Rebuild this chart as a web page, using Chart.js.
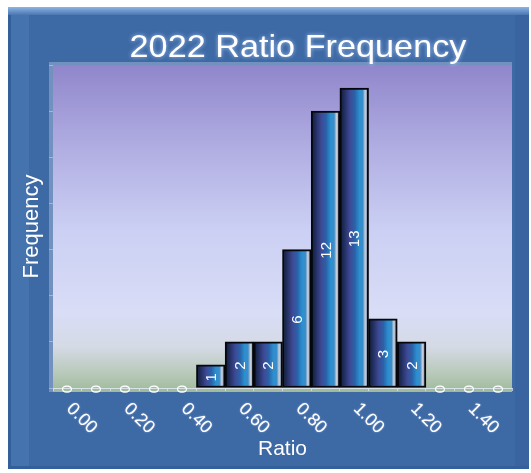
<!DOCTYPE html>
<html>
<head>
<meta charset="utf-8">
<script src="https://cdn.jsdelivr.net/npm/chart.js@4.4.1/dist/chart.umd.min.js"></script>
<style>
  html, body { margin: 0; padding: 0; background: #ffffff; }
  #wrap { width: 531px; height: 473px; }
</style>
</head>
<body>
<div id="wrap"><canvas id="chart" width="531" height="473"></canvas></div>
<script>
// Histogram bins (ratio) and counts per bin
const categories = ['0.00', '0.10', '0.20', '0.30', '0.40', '0.50', '0.60', '0.70',
                    '0.80', '0.90', '1.00', '1.10', '1.20', '1.30', '1.40', '1.50'];
const frequency = [0, 0, 0, 0, 0, 1, 2, 2, 6, 12, 13, 3, 2, 0, 0, 0];
const yMin = 0;
const yMax = 14;
const yStep = 2;
const tickEvery = 2;   // only every other bin carries a label
const chartTitle = '2022 Ratio Frequency';
const xTitle = 'Ratio';
const yTitle = 'Frequency';

const FONT = "'Liberation Sans', Arial, sans-serif";

// Panel, plot backdrop and title
const backdrop = {
  id: 'backdrop',
  beforeDraw(chart) {
    const { ctx, chartArea: a } = chart;
    ctx.save();
    ctx.fillStyle = '#ffffff';
    ctx.fillRect(0, 0, chart.width, chart.height);
    // blue panel
    ctx.fillStyle = '#3d69a5';
    ctx.fillRect(8, 7, 521, 462);
    // bevel strips
    ctx.fillStyle = '#4473ae';
    ctx.fillRect(11, 14, 18, 452);
    ctx.fillStyle = '#33609a';
    ctx.fillRect(8, 7, 3, 462);
    ctx.fillRect(8, 466, 521, 3);
    ctx.fillStyle = '#3a649f';
    ctx.fillRect(515, 14, 14, 452);
    const top = ctx.createLinearGradient(0, 7, 0, 15);
    top.addColorStop(0, '#8db4e4');
    top.addColorStop(1, '#4a76b0');
    ctx.fillStyle = top;
    ctx.fillRect(8, 7, 521, 8);

    // plot area shadow and gradient
    ctx.fillStyle = 'rgba(170,185,215,0.5)';
    ctx.fillRect(a.left - 4, a.top - 3, a.right - a.left + 4, a.bottom - a.top + 7);
    const g = ctx.createLinearGradient(0, a.top, 0, a.bottom + 4);
    g.addColorStop(0.00, '#9086cb');
    g.addColorStop(0.25, '#b0ade2');
    g.addColorStop(0.50, '#cbcff3');
    g.addColorStop(0.76, '#d9ddf6');
    g.addColorStop(0.86, '#d5dae6');
    g.addColorStop(0.94, '#b9cabb');
    g.addColorStop(1.00, '#9fba9a');
    ctx.fillStyle = g;
    ctx.fillRect(a.left, a.top, a.right - a.left, a.bottom - a.top + 4);
    ctx.restore();
  },
  afterDraw(chart) {
    const { ctx } = chart;
    ctx.save();
    ctx.font = `32px ${FONT}`;
    ctx.textAlign = 'center';
    ctx.textBaseline = 'alphabetic';
    ctx.fillStyle = '#ffffff';
    ctx.shadowColor = 'rgba(190,215,255,0.8)';
    ctx.shadowBlur = 4;
    ctx.translate(298, 57);
    ctx.scale(1.07, 1);
    ctx.fillText(chartTitle, 0, 0);
    ctx.restore();
  }
};

// Value labels inside bars and slanted category labels
const labels = {
  id: 'labels',
  afterDatasetsDraw(chart) {
    const { ctx } = chart;
    const meta = chart.getDatasetMeta(0);
    const xs = chart.scales.x;
    ctx.save();
    ctx.fillStyle = '#ffffff';
    ctx.textAlign = 'center';
    ctx.textBaseline = 'middle';
    ctx.font = `15px ${FONT}`;
    meta.data.forEach((bar, i) => {
      const { x, y, base } = bar.getProps(['x', 'y', 'base'], true);
      ctx.save();
      ctx.translate(x + 1, (y + base) / 2 + 1);
      ctx.rotate(-Math.PI / 2);
      ctx.fillText(String(frequency[i]), 0, 0);
      ctx.restore();
    });

    ctx.font = `18px ${FONT}`;
    ctx.textAlign = 'left';
    ctx.shadowColor = 'rgba(220,230,255,0.6)';
    ctx.shadowBlur = 2;
    categories.forEach((lab, i) => {
      if (i % tickEvery !== 0) return;
      const px = xs.getPixelForValue(i);
      ctx.save();
      ctx.translate(px + 2, xs.top + 18);
      ctx.rotate(Math.PI / 4);
      ctx.fillText(lab, 0, 0);
      ctx.restore();
    });
    ctx.restore();
  }
};

function barFill(c) {
  const chart = c.chart;
  if (!chart.chartArea) return '#2a6fb0';
  const xs = chart.scales.x;
  const cx = xs.getPixelForValue(c.dataIndex);
  const w = (xs.right - xs.left) / categories.length;
  const g = chart.ctx.createLinearGradient(cx - w / 2, 0, cx + w / 2, 0);
  g.addColorStop(0.00, '#111a36');
  g.addColorStop(0.12, '#1c2a55');
  g.addColorStop(0.35, '#3e4996');
  g.addColorStop(0.52, '#2a62a8');
  g.addColorStop(0.68, '#2b8fd0');
  g.addColorStop(0.80, '#3c8cc8');
  g.addColorStop(0.88, '#c6cedb');
  g.addColorStop(0.95, '#9aa6bf');
  g.addColorStop(1.00, '#1a1f30');
  return g;
}

new Chart(document.getElementById('chart'), {
  type: 'bar',
  data: {
    labels: categories,
    datasets: [{
      data: frequency,
      backgroundColor: barFill,
      borderColor: '#05070d',
      borderWidth: 2,
      borderSkipped: false,
      barPercentage: 1,
      categoryPercentage: 1
    }]
  },
  plugins: [backdrop, labels],
  options: {
    responsive: false,
    animation: false,
    devicePixelRatio: 1,
    layout: { padding: { top: 65, right: 19, left: 0, bottom: 0 } },
    plugins: {
      legend: { display: false },
      title: { display: false },
      tooltip: { enabled: false }
    },
    scales: {
      x: {
        ticks: { display: false },
        grid: { display: true, drawOnChartArea: false, tickLength: 3, color: 'rgba(225,232,245,0.7)' },
        border: { display: true, color: 'rgba(225,232,245,0.85)', width: 1 },
        title: { display: true, text: xTitle, color: '#ffffff', font: { family: FONT, size: 21 }, padding: { top: 0, bottom: 11 } },
        afterFit(scale) { scale.height = 85; }
      },
      y: {
        min: yMin,
        max: yMax,
        ticks: { display: false, stepSize: yStep },
        grid: { display: true, drawOnChartArea: false, tickLength: 4, color: 'rgba(200,212,235,0.55)' },
        border: { display: false },
        title: { display: true, text: yTitle, color: '#ffffff', font: { family: FONT, size: 22 }, padding: { top: 19, bottom: 0 } },
        afterFit(scale) { scale.width = 53; }
      }
    }
  }
});
</script>
</body>
</html>
